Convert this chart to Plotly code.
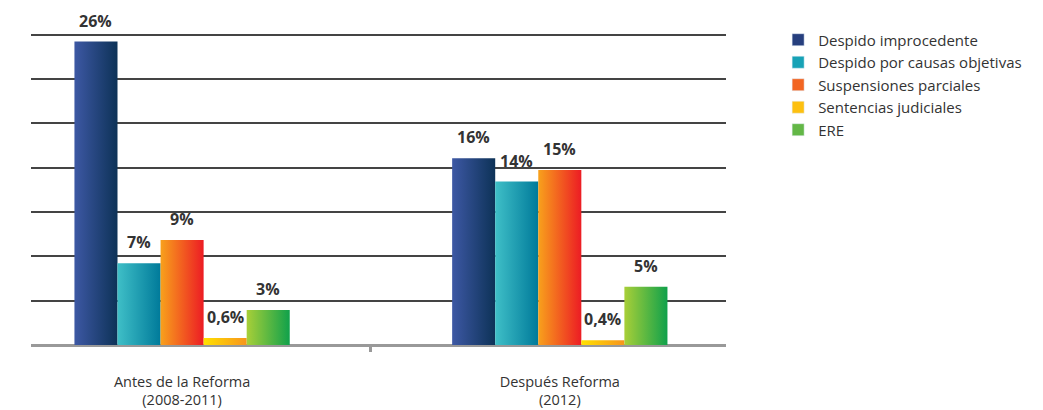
import plotly.graph_objects as go

categories = ["Antes de la Reforma<br>(2008-2011)", "Después Reforma<br>(2012)"]
series = [
    "Despido improcedente",
    "Despido por causas objetivas",
    "Suspensiones parciales",
    "Sentencias judiciales",
    "ERE",
]
despido_improcedente = [26, 16]
despido_objetivas = [7, 14]
suspensiones = [9, 15]
sentencias = [0.6, 0.4]
ere = [3, 5]
values = [despido_improcedente, despido_objetivas, suspensiones, sentencias, ere]
labels = [["26%", "16%"], ["7%", "14%"], ["9%", "15%"], ["0,6%", "0,4%"], ["3%", "5%"]]
grid_vals = [3.8, 7.6, 11.4, 15.2, 19.0, 22.8, 26.6]

# left -> right gradient colours of each series, plus legend swatch colour
gradients = [
    ("#3d58a4", "#0d3257"),
    ("#3fbfc7", "#007a9a"),
    ("#f8a11c", "#ec1c24"),
    ("#ffe100", "#f7941d"),
    ("#a8cf38", "#10a14b"),
]
swatch = ["#263f7e", "#17a2b6", "#f26522", "#fdc010", "#63b746"]

FONT = "Open Sans, Noto Sans, sans-serif"
bar_w = 0.114

fig = go.Figure()

for i, name in enumerate(series):
    c0, c1 = gradients[i]
    for j, v in enumerate(values[i]):
        xc = j + (i - 2) * bar_w
        x0, x1 = xc - bar_w / 2, xc + bar_w / 2
        fig.add_trace(go.Scatter(
            x=[x0, x1, x1, x0, x0], y=[0, 0, v, v, 0],
            mode="lines", line=dict(width=0), fill="toself",
            fillgradient=dict(type="horizontal", colorscale=[[0, c0], [1, c1]]),
            hoverinfo="skip", showlegend=False,
        ))
        fig.add_annotation(
            x=xc, y=v, text=f"<b>{labels[i][j]}</b>", showarrow=False,
            yanchor="bottom", yshift=9, borderpad=0,
            font=dict(family=FONT, size=16, color="#333333"),
        )
    # legend entry
    fig.add_trace(go.Bar(
        x=[None], y=[None], name=name, marker_color=swatch[i],
        legendgroup=name,
    ))

# the page body adds an 8px offset, so the figure is 8px smaller
fig.update_layout(
    width=1035, height=402,
    margin=dict(l=23, r=317, t=22.5, b=65, autoexpand=False),
    plot_bgcolor="white", paper_bgcolor="white",
    font=dict(family=FONT, size=15, color="#333333"),
    legend=dict(
        x=1.075, y=1.024, xanchor="left", yanchor="top",
        font=dict(family=FONT, size=15, color="#333333"),
        tracegroupgap=0, bgcolor="rgba(0,0,0,0)",
    ),
    xaxis=dict(
        range=[-0.4, 1.44], tickmode="array", tickvals=[0, 1],
        ticktext=categories, ticks="", showgrid=False, zeroline=False,
        showline=False, ticklabelstandoff=26, automargin=False,
        tickfont=dict(size=14.5),
        minor=dict(tickmode="array", tickvals=[0.5], ticks="outside",
                   ticklen=6, tickwidth=3, tickcolor="#999999", showgrid=False),
    ),
    yaxis=dict(
        range=[0, 26.9], tickmode="array", tickvals=grid_vals,
        showticklabels=False, ticks="", automargin=False,
        showgrid=True, gridcolor="#444444", gridwidth=1.5,
        zeroline=True, zerolinecolor="#999999", zerolinewidth=3,
    ),
)

fig.write_html("out.html")
